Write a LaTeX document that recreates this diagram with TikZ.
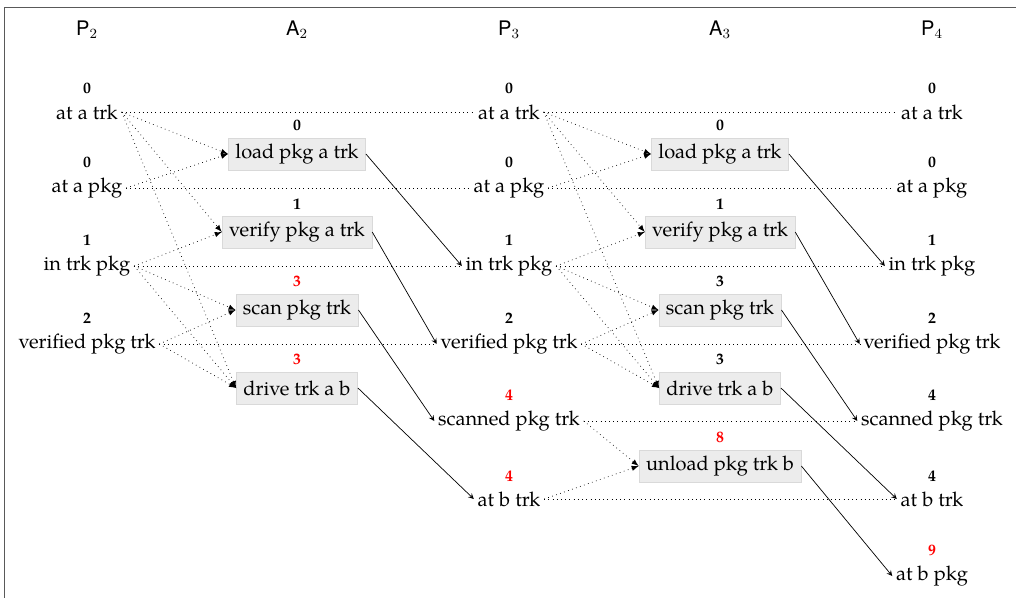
\documentclass[tikz,border=0pt]{standalone}
\usepackage{fontspec}
\setmainfont{TeX Gyre Pagella}
\setsansfont{TeX Gyre Heros}
\usepackage{tikz}
\usetikzlibrary{arrows}
\newcommand{\txtsize}{\fontsize{11.4}{14}\selectfont}
\tikzstyle{fact}=[inner sep=2pt, font=\txtsize]
\tikzstyle{act}=[fill=gray!15, draw=gray!30, minimum height=0.64cm, inner xsep=4pt, font=\txtsize]
\tikzstyle{num}=[font=\fontsize{9}{11}\selectfont\bfseries, inner sep=2pt, label distance=1.5pt]
\tikzstyle{noop}=[dotted]
\tikzstyle{pre}=[dotted,-latex]
\tikzstyle{eff}=[-stealth]
\tikzstyle{hd}=[font=\txtsize\sffamily]

\begin{document}
\begin{tikzpicture}
	\useasboundingbox (0,0) rectangle (20.32,-11.94);
	\draw[gray!70!black] (0.08,-0.14) rectangle (21,-13);

	% layer headers
	\node[hd] (h1) at (1.74,-0.6) {P$_2$};
	\node[hd] (h2) at (5.94,-0.6) {A$_2$};
	\node[hd] (h3) at (10.18,-0.6) {P$_3$};
	\node[hd] (h4) at (14.40,-0.6) {A$_3$};
	\node[hd] (h5) at (18.64,-0.6) {P$_4$};

	% P2
	\node[fact,label={[num]above:0}] (p2at) at (1.74,-2.24) {at a trk};
	\node[fact,label={[num]above:0}] (p2ap) at (1.74,-3.76) {at a pkg};
	\node[fact,label={[num]above:1}] (p2in) at (1.74,-5.32) {in trk pkg};
	\node[fact,label={[num]above:2}] (p2ver) at (1.74,-6.88) {verified pkg trk};

	% A2
	\node[act,label={[num]above:0}] (a2load) at (5.94,-3.08) {load pkg a trk};
	\node[act,label={[num]above:1}] (a2ver) at (5.94,-4.64) {verify pkg a trk};
	\node[act,label={[num,red]above:3}] (a2scan) at (5.94,-6.20) {scan pkg trk};
	\node[act,label={[num,red]above:3}] (a2drive) at (5.94,-7.76) {drive trk a b};

	% P3
	\node[fact,label={[num]above:0}] (p3at) at (10.18,-2.24) {at a trk};
	\node[fact,label={[num]above:0}] (p3ap) at (10.18,-3.76) {at a pkg};
	\node[fact,label={[num]above:1}] (p3in) at (10.18,-5.32) {in trk pkg};
	\node[fact,label={[num]above:2}] (p3ver) at (10.18,-6.88) {verified pkg trk};
	\node[fact,label={[num,red]above:4}] (p3scan) at (10.18,-8.42) {scanned pkg trk};
	\node[fact,label={[num,red]above:4}] (p3bt) at (10.18,-9.98) {at b trk};

	% A3
	\node[act,label={[num]above:0}] (a3load) at (14.40,-3.08) {load pkg a trk};
	\node[act,label={[num]above:1}] (a3ver) at (14.40,-4.64) {verify pkg a trk};
	\node[act,label={[num]above:3}] (a3scan) at (14.40,-6.20) {scan pkg trk};
	\node[act,label={[num]above:3}] (a3drive) at (14.40,-7.76) {drive trk a b};
	\node[act,label={[num,red]above:8}] (a3unl) at (14.40,-9.32) {unload pkg trk b};

	% P4
	\node[fact,label={[num]above:0}] (p4at) at (18.64,-2.24) {at a trk};
	\node[fact,label={[num]above:0}] (p4ap) at (18.64,-3.76) {at a pkg};
	\node[fact,label={[num]above:1}] (p4in) at (18.64,-5.32) {in trk pkg};
	\node[fact,label={[num]above:2}] (p4ver) at (18.64,-6.88) {verified pkg trk};
	\node[fact,label={[num]above:4}] (p4scan) at (18.64,-8.42) {scanned pkg trk};
	\node[fact,label={[num]above:4}] (p4bt) at (18.64,-9.98) {at b trk};
	\node[fact,label={[num,red]above:9}] (p4bp) at (18.64,-11.52) {at b pkg};

	% no-ops
	\draw[noop] (p2at) -- (p3at);
	\draw[noop] (p2ap) -- (p3ap);
	\draw[noop] (p2in) -- (p3in);
	\draw[noop] (p2ver) -- (p3ver);
	\draw[noop] (p3at) -- (p4at);
	\draw[noop] (p3ap) -- (p4ap);
	\draw[noop] (p3in) -- (p4in);
	\draw[noop] (p3ver) -- (p4ver);
	\draw[noop] (p3scan) -- (p4scan);
	\draw[noop] (p3bt) -- (p4bt);

	% preconditions
	\draw[pre] (p2at.east) -- (a2load.west);
	\draw[pre] (p2at.east) -- (a2ver.west);
	\draw[pre] (p2at.east) -- (a2drive.west);
	\draw[pre] (p2ap.east) -- (a2load.west);
	\draw[pre] (p2in.east) -- (a2ver.west);
	\draw[pre] (p2in.east) -- (a2scan.west);
	\draw[pre] (p2in.east) -- (a2drive.west);
	\draw[pre] (p2ver.east) -- (a2scan.west);
	\draw[pre] (p2ver.east) -- (a2drive.west);

	\draw[pre] (p3at.east) -- (a3load.west);
	\draw[pre] (p3at.east) -- (a3ver.west);
	\draw[pre] (p3at.east) -- (a3drive.west);
	\draw[pre] (p3ap.east) -- (a3load.west);
	\draw[pre] (p3in.east) -- (a3ver.west);
	\draw[pre] (p3in.east) -- (a3scan.west);
	\draw[pre] (p3in.east) -- (a3drive.west);
	\draw[pre] (p3ver.east) -- (a3scan.west);
	\draw[pre] (p3ver.east) -- (a3drive.west);
	\draw[pre] (p3scan.east) -- (a3unl.west);
	\draw[pre] (p3bt.east) -- (a3unl.west);

	% effects
	\draw[eff] (a2load.east) -- (p3in.west);
	\draw[eff] (a2ver.east) -- (p3ver.west);
	\draw[eff] (a2scan.east) -- (p3scan.west);
	\draw[eff] (a2drive.east) -- (p3bt.west);
	\draw[eff] (a3load.east) -- (p4in.west);
	\draw[eff] (a3ver.east) -- (p4ver.west);
	\draw[eff] (a3scan.east) -- (p4scan.west);
	\draw[eff] (a3drive.east) -- (p4bt.west);
	\draw[eff] (a3unl.east) -- (p4bp.west);
\end{tikzpicture}
\end{document}
